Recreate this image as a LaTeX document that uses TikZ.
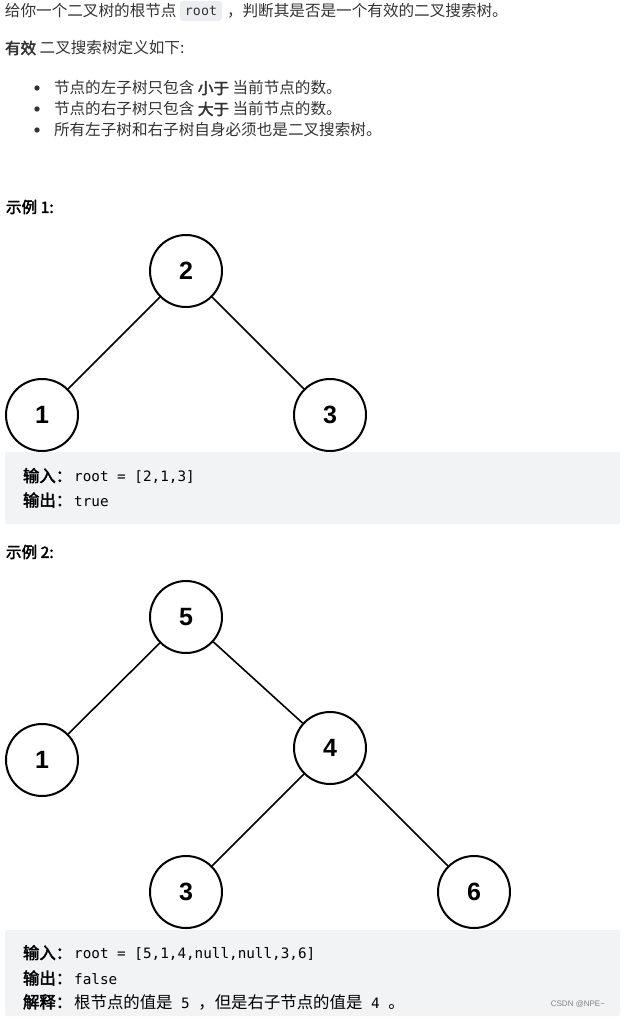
\documentclass[tikz,border=0pt]{standalone}
\usepackage{fontspec}
\setmainfont{Liberation Sans}
\setmonofont{DejaVu Sans Mono}
\newfontfamily\cjk[AutoFakeBold=2.5]{Noto Sans CJK SC}
\usetikzlibrary{positioning}

\definecolor{txtgray}{HTML}{333333}
\definecolor{boxgray}{HTML}{F2F3F5}
\definecolor{codegray}{HTML}{EBEDF0}

\newcommand{\cd}[1]{{\ttfamily\fontsize{14.3}{16}\selectfont #1}}

\begin{document}
\begin{tikzpicture}[x=1pt, y=-1pt, line width=2pt,
  txt/.style={anchor=west, inner sep=0pt, text=txtgray, font=\cjk\fontsize{15.6}{18}\selectfont},
  exline/.style={anchor=west, inner sep=0pt, text=black, font=\cjk\fontsize{16.4}{18}\selectfont},
  tnode/.style={circle, draw=black, line width=2pt, minimum size=72pt, inner sep=0pt, font=\bfseries\fontsize{25}{25}\selectfont},
  tedge/.style={line width=1.6pt},
  example/.style={fill=boxgray, rounded corners=2pt, draw=none}]

\useasboundingbox (0,0) rectangle (624,1020);

% heading text
\node[txt] (intro1) at (4,11) {给你一个二叉树的根节点};
\node[fill=codegray, rounded corners=3pt, minimum width=42pt, minimum height=20pt, inner sep=0pt,
      text=txtgray, font=\ttfamily\fontsize{13.3}{15}\selectfont] (rootcode) at (201,11) {root};
\node[txt] (intro2) at (226,11) {，判断其是否是一个有效的二叉搜索树。};
\node[txt] (defline) at (4,48) {\textbf{有效} 二叉搜索树定义如下:};

\foreach \y/\t in {88/{节点的左子树只包含 \textbf{小于} 当前节点的数。},
                   109/{节点的右子树只包含 \textbf{大于} 当前节点的数。},
                   130/{所有左子树和右子树自身必须也是二叉搜索树。}} {
  \fill[txtgray] (37,\y) circle (2.7pt);
  \node[txt] at (53,\y) {\t};
}

% example 1
\node[txt, text=black] (ex1) at (5,207) {\textbf{示例 1:}};
\node[tnode] (a2) at (186,271) {2};
\node[tnode] (a1) at (42,415) {1};
\node[tnode] (a3) at (330,415) {3};
\draw[tedge] (a2) -- (a1);
\draw[tedge] (a2) -- (a3);

\fill[example] (5,452) rectangle (620,524);
\node[exline] (in1) at (22,476) {\textbf{输入：}\hspace{2pt}\cd{root = [2,1,3]}};
\node[exline] (out1) at (22,500) {\textbf{输出：}\hspace{2pt}\cd{true}};

% example 2
\node[txt, text=black] (ex2) at (5,552) {\textbf{示例 2:}};
\node[tnode] (b5) at (186,617) {5};
\node[tnode] (b1) at (42,760) {1};
\node[tnode] (b4) at (330,748) {4};
\node[tnode] (b3) at (186,892) {3};
\node[tnode] (b6) at (474,892) {6};
\draw[tedge] (b5) -- (b1);
\draw[tedge] (b5) -- (b4);
\draw[tedge] (b4) -- (b3);
\draw[tedge] (b4) -- (b6);

\fill[example] (5,930) rectangle (620,1016);
\node[exline] (in2) at (22,953) {\textbf{输入：}\hspace{2pt}\cd{root = [5,1,4,null,null,3,6]}};
\node[exline] (out2) at (22,978) {\textbf{输出：}\hspace{2pt}\cd{false}};
\node[exline] (expl) at (22,1002) {\textbf{解释：}\hspace{2pt}根节点的值是\cd{ 5 }，但是右子节点的值是\cd{ 4 }。};
\node[anchor=east, inner sep=0pt, text=gray, font=\fontsize{8}{9}\selectfont] (mark) at (606,1004) {CSDN @NPE\textasciitilde};

\end{tikzpicture}
\end{document}
